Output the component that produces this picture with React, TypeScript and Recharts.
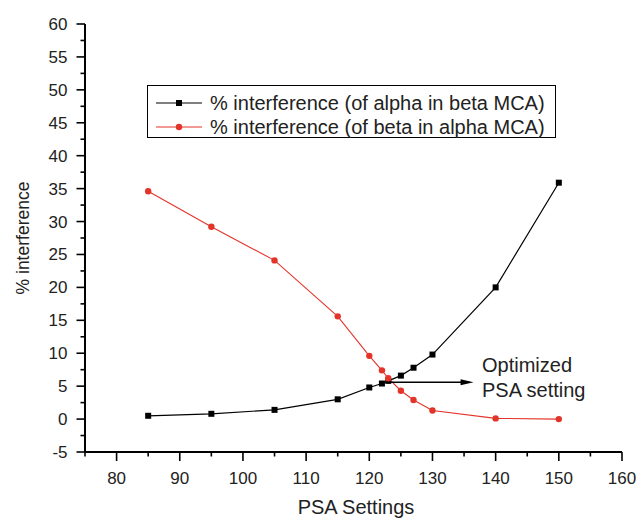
import { LineChart, Line, XAxis, YAxis, Legend, ReferenceLine } from 'recharts';

const FONT = '"Liberation Sans", Arial, Helvetica, sans-serif';

// PSA settings (x) and interference in percent for both channels
const psaSettings = [85, 95, 105, 115, 120, 122, 123, 125, 127, 130, 140, 150];
const alphaInBeta = [0.5, 0.8, 1.4, 3.0, 4.8, 5.4, 5.8, 6.6, 7.8, 9.8, 20.0, 35.9];
const betaInAlpha = [34.6, 29.2, 24.1, 15.6, 9.6, 7.4, 6.2, 4.3, 2.9, 1.3, 0.1, 0.0];

const xMajorTicks = [80, 90, 100, 110, 120, 130, 140, 150, 160];
const xMinorTicks = [75, 85, 95, 105, 115, 125, 135, 145, 155];
const yMajorTicks = [-5, 0, 5, 10, 15, 20, 25, 30, 35, 40, 45, 50, 55, 60];
const yMinorTicks = [-2.5, 2.5, 7.5, 12.5, 17.5, 22.5, 27.5, 32.5, 37.5, 42.5, 47.5, 52.5, 57.5];

const seriesNames = ['% interference (of alpha in beta MCA)', '% interference (of beta in alpha MCA)'];
const seriesColors = ['#000000', '#e3342a'];

// optimized setting annotation (data coordinates)
const arrowFrom = 123;
const arrowTo = 136.5;
const arrowLevel = 5.6;
const annotationLines = ['Optimized', 'PSA setting'];

const data = psaSettings.map((psa, i) => ({
  psa,
  alpha: alphaInBeta[i],
  beta: betaInAlpha[i],
}));

const xTicks = [...xMajorTicks, ...xMinorTicks].sort((a, b) => a - b);
const yTicks = [...yMajorTicks, ...yMinorTicks].sort((a, b) => a - b);

const XTick = ({ x, y, payload }: any) => {
  const major = xMajorTicks.includes(payload.value);
  return (
    <g>
      <line x1={x} y1={y} x2={x} y2={y + (major ? 9 : 4.5)} stroke="#000" strokeWidth={1.6} />
      {major && (
        <text x={x} y={y + 31.5} textAnchor="middle" fontSize={17} fill="#222" fontFamily={FONT}>
          {payload.value}
        </text>
      )}
    </g>
  );
};

const YTick = ({ x, y, payload }: any) => {
  const major = yMajorTicks.includes(payload.value);
  return (
    <g>
      <line x1={x} y1={y} x2={x - (major ? 8.5 : 4.5)} y2={y} stroke="#000" strokeWidth={1.6} />
      {major && (
        <text x={x - 17.5} y={y + 6} textAnchor="end" fontSize={17} fill="#222" fontFamily={FONT}>
          {payload.value}
        </text>
      )}
    </g>
  );
};

const SquareDot = ({ cx, cy, index }: any) => (
  <rect key={`sq-${index}`} x={cx - 3} y={cy - 3} width={6} height={6} fill="#000" />
);

const RoundDot = ({ cx, cy, index }: any) => (
  <circle key={`rd-${index}`} cx={cx} cy={cy} r={3.2} fill={seriesColors[1]} />
);

const LegendBox = () => (
  <div
    style={{
      boxSizing: 'border-box',
      width: 409,
      height: 53,
      border: '1px solid #000',
      background: '#fff',
      paddingTop: 5,
      fontFamily: FONT,
      fontSize: 20,
      color: '#222',
    }}
  >
    {seriesNames.map((name, i) => (
      <div key={name} style={{ display: 'flex', alignItems: 'center', height: 24, whiteSpace: 'nowrap' }}>
        <svg width={54} height={24} style={{ marginLeft: 8, flexShrink: 0 }}>
          <line x1={0} y1={12} x2={46} y2={12} stroke={seriesColors[i]} strokeWidth={1.2} />
          {i === 0 ? (
            <rect x={20} y={9} width={6} height={6} fill="#000" />
          ) : (
            <circle cx={23} cy={12} r={3.2} fill={seriesColors[1]} />
          )}
        </svg>
        <span>{name}</span>
      </div>
    ))}
  </div>
);

const ArrowShape = ({ x1, y1, x2, y2 }: any) => (
  <g>
    <line x1={x1} y1={y1} x2={x2 - 10} y2={y2} stroke="#000" strokeWidth={1.4} />
    <polygon points={`${x2},${y2} ${x2 - 13},${y2 - 3} ${x2 - 13},${y2 + 3}`} fill="#000" />
    <text x={x2 + 8.5} y={y2 - 10} fontSize={20} fill="#222" fontFamily={FONT}>
      {annotationLines[0]}
    </text>
    <text x={x2 + 8.5} y={y2 + 15} fontSize={20} fill="#222" fontFamily={FONT}>
      {annotationLines[1]}
    </text>
  </g>
);

export default function App() {
  return (
    <div style={{ position: 'absolute', left: 0, top: 0, width: 640, height: 520, background: '#fff' }}>
      <LineChart width={640} height={520} data={data} margin={{ top: 24, right: 18, bottom: 0, left: 0 }}>
        <XAxis
          dataKey="psa"
          type="number"
          domain={[75, 160]}
          ticks={xTicks}
          interval={0}
          height={68}
          tickSize={0}
          tickMargin={0}
          tickLine={false}
          axisLine={{ stroke: '#000', strokeWidth: 2 }}
          tick={<XTick />}
          label={({ viewBox }: any) => (
            <text
              x={viewBox.x + viewBox.width / 2 + 2.5}
              y={514}
              textAnchor="middle"
              fontSize={20}
              fill="#222"
              fontFamily={FONT}
            >
              PSA Settings
            </text>
          )}
        />
        <YAxis
          type="number"
          domain={[-5, 60]}
          ticks={yTicks}
          interval={0}
          width={85}
          tickSize={0}
          tickMargin={0}
          tickLine={false}
          axisLine={{ stroke: '#000', strokeWidth: 2 }}
          tick={<YTick />}
          label={({ viewBox }: any) => {
            const cy = viewBox.y + viewBox.height / 2;
            return (
              <text
                x={29}
                y={cy}
                transform={`rotate(-90, 29, ${cy})`}
                textAnchor="middle"
                fontSize={17.5}
                fill="#222"
                fontFamily={FONT}
              >
                % interference
              </text>
            );
          }}
        />
        <Legend
          layout="vertical"
          align="center"
          verticalAlign="middle"
          wrapperStyle={{ left: 147, top: 85, width: 409 }}
          content={<LegendBox />}
        />
        <Line
          dataKey="alpha"
          name={seriesNames[0]}
          stroke={seriesColors[0]}
          strokeWidth={1.2}
          dot={SquareDot}
          activeDot={false}
          isAnimationActive={false}
        />
        <Line
          dataKey="beta"
          name={seriesNames[1]}
          stroke={seriesColors[1]}
          strokeWidth={1.1}
          dot={RoundDot}
          activeDot={false}
          isAnimationActive={false}
        />
        <ReferenceLine
          segment={[
            { x: arrowFrom, y: arrowLevel },
            { x: arrowTo, y: arrowLevel },
          ]}
          shape={ArrowShape}
        />
      </LineChart>
    </div>
  );
}
